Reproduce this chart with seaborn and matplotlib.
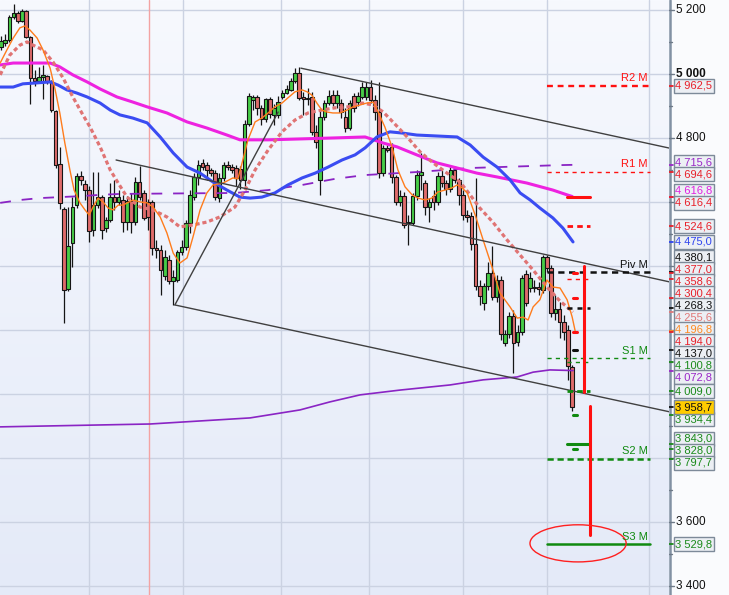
#Index chart with monthly pivots, moving averages and trend channel
import numpy as np
import pandas as pd
import matplotlib
matplotlib.use("Agg")
import matplotlib.pyplot as plt
from matplotlib.patches import Rectangle, Ellipse
from matplotlib.colors import LinearSegmentedColormap
import seaborn as sns

###DATA
#daily candles (open, high, low, close)
opens = [5084,5097,5106,5178,5190,5165,5197,5115,4987,4978,4990,4994,4975,4884,4719,4578,4328,4472,4590,4681,
         4656,4637,4512,4590,4615,4519,4544,4615,4600,4606,4537,4603,4537,4662,4628,4600,4600,4456,4450,4368,
         4418,4353,4356,4443,4459,4534,4615,4678,4722,4715,4700,4690,4612,4675,4715,4709,4706,4703,4669,4843,
         4918,4928,4894,4859,4922,4872,4872,4928,4940,4950,4978,5003,4928,4925,4928,4818,4669,4865,4909,4934,
         4909,4909,4865,4831,4931,4912,4928,4928,4959,4919,4881,4690,4769,4772,4678,4600,4618,4534,4534,4618,
         4684,4659,4584,4618,4600,4681,4659,4640,4700,4669,4622,4559,4556,4469,4337,4284,4337,4378,4303,4356,
         4159,4187,4244,4162,4194,4375,4331,4334,4334,4325,4428,4394,4253,4265,4225,4200,4084]
highs = [5119,5125,5184,5219,5197,5203,5200,5119,5012,5022,5028,4997,4981,4887,4772,4584,4584,4615,4690,4697,
         4669,4650,4694,4694,4622,4553,4659,4669,4637,4622,4618,4628,4678,4712,4637,4609,4606,4481,4465,4450,
         4434,4387,4450,4481,4544,4637,4690,4731,4735,4725,4706,4700,4690,4725,4728,4720,4715,4712,4856,4940,
         4934,4934,4903,4925,4928,4906,4931,4950,4965,4987,5018,5022,4944,4956,4944,4840,4887,4919,4950,4950,
         4950,4922,4894,4919,4940,4944,4975,4974,4981,4934,4975,4778,4778,4784,4684,4637,4631,4559,4628,4700,
         4753,4669,4612,4637,4693,4700,4669,4709,4712,4675,4637,4575,4568,4675,4356,4347,4412,4462,4372,4368,
         4200,4256,4262,4215,4372,4387,4381,4356,4350,4434,4434,4403,4309,4287,4247,4215,4090]
lows = [5075,5087,5100,5172,5159,5162,5112,4906,4962,4972,4922,4969,4881,4706,4578,4221,4322,4397,4581,4653,
        4606,4475,4494,4581,4484,4506,4537,4575,4590,4506,4512,4503,4528,4606,4544,4512,4434,4425,4309,4356,
        4343,4278,4350,4434,4450,4503,4606,4653,4700,4670,4680,4606,4600,4665,4700,4690,4650,4640,4643,4837,
        4887,4872,4840,4850,4862,4840,4862,4922,4937,4947,4972,4919,4872,4903,4809,4769,4622,4856,4903,4900,
        4893,4862,4819,4825,4880,4900,4922,4920,4909,4856,4675,4681,4756,4659,4590,4587,4519,4465,4528,4606,
        4637,4559,4537,4575,4590,4647,4622,4631,4659,4590,4544,4537,4450,4325,4278,4262,4325,4294,4287,4169,
        4150,4175,4065,4150,4184,4275,4319,4319,4309,4315,4381,4240,4231,4175,4169,4044,3947]
closes = [5103,5106,5178,5190,5165,5197,5115,4987,4978,4990,4997,4975,4887,4715,4597,4325,4462,4584,4681,4669,
          4637,4509,4590,4615,4512,4544,4615,4600,4615,4537,4603,4537,4662,4615,4550,4553,4456,4450,4387,4428,
          4353,4365,4443,4459,4534,4622,4678,4715,4709,4700,4690,4615,4675,4715,4709,4700,4675,4669,4843,4931,
          4928,4894,4859,4922,4875,4894,4912,4940,4953,4978,5003,4925,4922,4922,4818,4787,4865,4909,4931,4909,
          4934,4881,4831,4909,4894,4931,4959,4959,4919,4881,4690,4769,4762,4678,4600,4618,4528,4537,4618,4684,
          4694,4584,4600,4600,4681,4659,4640,4700,4669,4622,4559,4553,4469,4337,4306,4337,4378,4303,4356,4187,
          4187,4244,4159,4194,4362,4284,4362,4331,4328,4428,4394,4253,4265,4225,4194,4087,3959]

#moving averages as (candle index, price)
ma_fast = [(-0.2,5034),(1.4,5075),(2.9,5112),(4.5,5144),(5.7,5150),(6.9,5137),(8.6,5112),(10.0,5075),(11.7,5018),
           (12.9,4950),(14.0,4878),(15.2,4784),(16.4,4700),(17.4,4637),(18.8,4597),(20.0,4575),(21.0,4559),(21.9,4584),
           (23.1,4612),(24.3,4600),(25.5,4581),(26.7,4575),(27.9,4590),(29.0,4590),(31.4,4606),(33.1,4600),(34.8,4597),
           (36.2,4584),(37.9,4553),(39.5,4503),(41.0,4440),(42.6,4409),(44.3,4425),(45.7,4490),(47.4,4575),(49.0,4628),
           (50.5,4653),(52.9,4659),(55.2,4675),(56.4,4672),(57.4,4722),(58.8,4794),(60.5,4850),(62.1,4862),(63.6,4878),
           (65.2,4897),(66.9,4909),(68.3,4925),(70.0,4944),(71.7,4950),(72.9,4944),(74.0,4934),(75.2,4909),(76.4,4887),
           (77.6,4881),(79.0,4878),(80.7,4878),(82.4,4887),(83.8,4897),(85.5,4903),(87.1,4909),(88.6,4912),(89.8,4881),
           (91.4,4834),(93.1,4772),(94.5,4700),(96.2,4647),(97.9,4622),(99.3,4612),(101.0,4606),(102.6,4612),(104.0,4631),
           (105.7,4637),(107.4,4644),(108.6,4653),(109.8,4644),(111.0,4628),(112.9,4559),(114.8,4481),(116.9,4397),
           (118.8,4315),(121.2,4272),(122.9,4237),(124.3,4240),(125.5,4231),(126.7,4272),(128.3,4294),(130.0,4356),
           (131.4,4334),(133.1,4331),(134.8,4294),(136.0,4240),(136.7,4197)]
ma_mid = [(-0.2,4997),(2.1,5059),(4.5,5090),(6.2,5100),(7.6,5090),(10.0,5075),(12.4,5037),(14.8,4987),(17.1,4928),
          (19.5,4872),(21.2,4834),(23.6,4772),(26.0,4700),(27.9,4659),(30.0,4615),(33.1,4584),(36.2,4575),(39.5,4553),
          (42.6,4522),(45.7,4528),(49.0,4537),(52.1,4553),(55.7,4584),(58.1,4637),(60.5,4700),(63.6,4762),(66.9,4819),
          (70.0,4856),(73.1,4878),(76.4,4887),(79.5,4894),(82.6,4897),(86.0,4909),(88.6,4903),(91.0,4881),(93.3,4850),
          (96.7,4803),(99.8,4756),(102.9,4722),(106.2,4690),(109.3,4662),(111.7,4622),(114.0,4581),(117.1,4537),
          (120.5,4481),(123.6,4434),(126.7,4387),(130.0,4334),(133.1,4290),(136.2,4256)]
ma_blue = [(-0.2,4959),(2.9,4959),(5.2,4969),(8.6,4972),(11.7,4975),(13.6,4965),(15.7,4950),(18.1,4940),(20.5,4928),
           (23.6,4909),(26.0,4887),(28.3,4872),(31.4,4862),(34.8,4847),(37.9,4803),(41.0,4753),(44.3,4709),(47.4,4690),
           (50.5,4662),(53.8,4637),(56.9,4615),(59.3,4612),(62.1,4615),(65.2,4628),(68.3,4653),(71.7,4675),(74.8,4690),
           (77.9,4709),(81.2,4731),(84.3,4747),(86.7,4769),(89.5,4803),(92.6,4819),(95.7,4815),(99.0,4809),(103.8,4806),
           (108.6,4803),(111.7,4778),(114.8,4740),(118.1,4709),(121.2,4669),(123.6,4628),(126.0,4606),(128.3,4581),
           (131.4,4550),(133.8,4518),(136.2,4475)]
ma_magenta = [(-0.2,5028),(2.9,5034),(7.6,5034),(11.7,5034),(14.0,5022),(17.1,4997),(20.5,4975),(23.6,4953),
              (27.6,4928),(31.4,4912),(34.8,4897),(39.5,4878),(44.3,4850),(49.0,4831),(53.8,4809),(56.9,4794),
              (59.8,4794),(63.6,4794),(71.7,4797),(79.5,4800),(86.7,4803),(91.0,4784),(94.3,4772),(99.0,4747),
              (103.8,4722),(108.6,4706),(113.3,4690),(118.1,4678),(125.2,4659),(131.4,4637),(134.8,4622),(136.0,4617)]
ma_long = [(-0.2,4597),(4.5,4606),(9.3,4612),(14.0,4615),(18.8,4618),(23.6,4622),(28.3,4625),(55.7,4628),(63.6,4637),
           (71.7,4653),(79.5,4672),(86.7,4684),(99.8,4694),(111.7,4706),(133.1,4715),(136.7,4716)]
ma_low = [(-0.2,3897),(35.5,3906),(59.3,3925),(71.2,3950),(78.3,3975),(85.5,3997),(95.0,4012),(106.9,4028),
          (114.8,4044),(122.9,4053),(126.7,4068),(130.7,4075),(136.2,4073)]

#trend channel lines (index, price) pairs
trend_lines = [[(71.4,5018),(159.2,4768)],
               [(27.4,4731),(159.2,4350)],
               [(41.4,4278),(159.2,3944)],
               [(41.4,4278),(66.0,4881)]]

#monthly pivots
pivot_names = ['R2 M','R1 M','Piv M','S1 M','S2 M','S3 M']
pivot_values = [4962.5, 4694.6, 4380.1, 4112.0, 3797.7, 3529.8]

#short level marks next to the last candle
short_levels = [4616.4, 4524.6, 4358.6, 4268.3, 4100.8, 4009.0, 3843.0]
tick_levels = [4377.0, 4300.4, 4194.0, 4137.0, 3934.4, 3828.0]

#price boxes on the right axis
box_values = [4962.5, 4715.6, 4694.6, 4616.8, 4616.4, 4524.6, 4475.0, 4380.1, 4377.0, 4358.6, 4300.4, 4268.3,
              4255.6, 4196.8, 4194.0, 4137.0, 4100.8, 4072.8, 4009.0, 3958.7, 3934.4, 3843.0, 3828.0, 3797.7, 3529.8]
box_colors = ['#e8202a','#9a28c8','#e8202a','#e020e0','#e8202a','#e8202a','#2f44f0','#111111','#e8202a','#e8202a',
              '#e8202a','#111111','#e07878','#ff8a20','#e8202a','#111111','#1a8a1a','#9a28c8','#1a8a1a','#111111',
              '#1a8a1a','#1a8a1a','#1a8a1a','#1a8a1a','#1a8a1a']
last_price = 3958.7

axis_ticks = [3400, 3600, 3800, 4000, 4200, 4400, 4600, 4800, 5000, 5200]
labeled_ticks = [3400, 3600, 4800, 5000, 5200]
month_lines = [20.95, 43.33, 66.67, 87.62, 110.0, 130.0, 154.29]
year_line = 35.24

###FIGURE
sns.set_theme(style='white')
plt.rcParams['font.family'] = ['Liberation Sans', 'DejaVu Sans']

Y_TOP, Y_BOT = 5231.0, 3371.6
PX = 3.125  #price units per pixel

fig = plt.figure(figsize=(7.29, 5.95), dpi=100)
ax = fig.add_axes([0, 0, 669/729, 1])

#background gradient
cmap = LinearSegmentedColormap.from_list('bg', ['#f7f9fe', '#e4eaf8'])
ax.imshow(np.linspace(0, 1, 256).reshape(-1, 1), extent=[0, 1, 0, 1], transform=ax.transAxes,
          cmap=cmap, aspect='auto', zorder=0)

for v in axis_ticks:
    ax.axhline(v, color='#cbd2e2', lw=1, zorder=1)
for v in month_lines:
    ax.axvline(v, color='#cbd2e2', lw=1, zorder=1)
ax.axvline(year_line, color='#f3a3a3', lw=1, zorder=1)

#candles
df = pd.DataFrame({'open': opens, 'high': highs, 'low': lows, 'close': closes})
df['i'] = np.arange(len(df))
up = df['close'] >= df['open']
ax.vlines(df['i'], df['low'], df['high'], color='#151515', lw=0.9, zorder=3)
ax.bar(df['i'], (df['close'] - df['open']).abs(), bottom=np.minimum(df['open'], df['close']),
       width=0.82, color=np.where(up, '#46cc46', '#df6b6b'), edgecolor='#151515', linewidth=0.8, zorder=4)

#moving averages
def as_frame(pts):
    return pd.DataFrame(pts, columns=['i', 'price'])

sns.lineplot(data=as_frame(ma_low), x='i', y='price', ax=ax, color='#8a24c4', lw=1.2, estimator=None, zorder=5)
sns.lineplot(data=as_frame(ma_long), x='i', y='price', ax=ax, color='#8a24c4', lw=1.3, estimator=None,
             linestyle=(0, (6, 6)), zorder=5)
sns.lineplot(data=as_frame(ma_magenta), x='i', y='price', ax=ax, color='#ee22e0', lw=2.2, estimator=None, zorder=5)
sns.lineplot(data=as_frame(ma_blue), x='i', y='price', ax=ax, color='#3a4cf2', lw=2.2, estimator=None, zorder=5)
sns.lineplot(data=as_frame(ma_mid), x='i', y='price', ax=ax, color='#e07474', lw=2.3, estimator=None,
             linestyle=(0, (1.3, 0.9)), zorder=6)
sns.lineplot(data=as_frame(ma_fast), x='i', y='price', ax=ax, color='#ff7c1c', lw=1.0, estimator=None, zorder=7)

for line in trend_lines:
    (x0, y0), (x1, y1) = line
    ax.plot([x0, x1], [y0, y1], color='#404040', lw=1.0, zorder=7)

#pivot lines
piv_colors = ['#ff1010', '#ff1010', '#111111', '#108a10', '#108a10', '#108a10']
piv_styles = [(0, (2.5, 2)), (0, (3, 3)), (0, (2.5, 1.8)), (0, (3, 3)), (0, (2.5, 1.5)), '-']
piv_widths = [1.7, 1.0, 1.8, 1.0, 1.8, 1.8]
for name, v, c, ls, w in zip(pivot_names, pivot_values, piv_colors, piv_styles, piv_widths):
    ax.plot([130, 154.5], [v, v], color=c, ls=ls, lw=w, zorder=8)
    ax.text(154.0, v + 2.5 * PX, name, color=c, fontsize=8, ha='right', va='bottom', zorder=9)

#short level marks
short_colors = ['#ff1010', '#ff1010', '#ff1010', '#111111', '#108a10', '#108a10', '#108a10']
short_styles = ['-', (0, (2, 1.5)), (0, (3, 3)), (0, (2, 2)), (0, (3, 3)), (0, (2, 1.5)), '-']
short_widths = [2.2, 2.0, 1.0, 1.8, 1.0, 2.0, 2.2]
for v, c, ls, w in zip(short_levels, short_colors, short_styles, short_widths):
    ax.plot([134.8, 140.2], [v, v], color=c, ls=ls, lw=w, zorder=8)
tick_colors = ['#ff1010', '#ff1010', '#ff1010', '#111111', '#108a10', '#108a10']
for v, c in zip(tick_levels, tick_colors):
    ax.plot([136.1, 137.1], [v, v], color=c, lw=2.2, zorder=8)

#target arrows and ellipse
ax.plot([138.8, 138.8], [4400, 4006], color='#ff1010', lw=2.2, zorder=8)
ax.plot([140.2, 140.2], [3962, 3559], color='#ff1010', lw=2.2, zorder=8)
ax.add_patch(Ellipse((137.4, 3533), 22.9, 116, fill=False, ec='#ff2020', lw=1.0, zorder=8))

ax.set_xlim(-0.24, 159.05)
ax.set_ylim(Y_BOT, Y_TOP)
ax.set_xlabel('')
ax.set_ylabel('')
ax.set_xticks([])
ax.set_yticks([])
for s in ax.spines.values():
    s.set_visible(False)

###RIGHT PRICE AXIS
axr = fig.add_axes([669/729, 0, 60/729, 1])
axr.set_xlim(0, 60)
axr.set_ylim(Y_BOT, Y_TOP)
axr.set_facecolor('#fafbfd')
axr.set_xticks([])
axr.set_yticks([])
for s in axr.spines.values():
    s.set_visible(False)
axr.axvline(0.8, color='#8291a3', lw=1.8, zorder=2)

for v in range(3400, 5201, 100):
    axr.plot([0, 5 if v % 200 == 0 else 3], [v, v], color='#6e7a88', lw=1, zorder=2)
for v in labeled_ticks:
    axr.text(7, v, f'{v // 1000} {v % 1000:03d}', fontsize=8.5, va='center', ha='left', color='#111111',
             fontweight='bold' if v == 5000 else 'normal', zorder=3)

#spread the boxes so they do not sit on top of each other
ypix = [(Y_TOP - v) / PX for v in box_values]
fixed = [v == last_price for v in box_values]
gap = 12
for _ in range(80):
    for k in range(len(ypix) - 1):
        d = ypix[k + 1] - ypix[k]
        if d < gap:
            if fixed[k]:
                ypix[k + 1] += gap - d
            elif fixed[k + 1]:
                ypix[k] -= gap - d
            else:
                ypix[k] -= (gap - d) / 2
                ypix[k + 1] += (gap - d) / 2

h = 14 * PX
for n, (v, c, yp) in enumerate(zip(box_values, box_colors, ypix)):
    yc = Y_TOP - yp * PX
    axr.plot([0, 4], [v, v], color=c, lw=1.3, zorder=3)
    face = '#ffcc00' if v == last_price else '#eceff4'
    z = 50 if v == last_price else 4 + n
    axr.add_patch(Rectangle((4.5, yc - h / 2), 40, h, facecolor=face, edgecolor='#7d8a99', lw=1, zorder=z))
    whole = int(v)
    txt = f'{whole // 1000} {whole % 1000:03d},{int(round(v * 10)) % 10}'
    axr.text(24.5, yc, txt, color=c, fontsize=8, ha='center', va='center', zorder=z + 0.5)

fig.savefig('out.png', dpi=100)
